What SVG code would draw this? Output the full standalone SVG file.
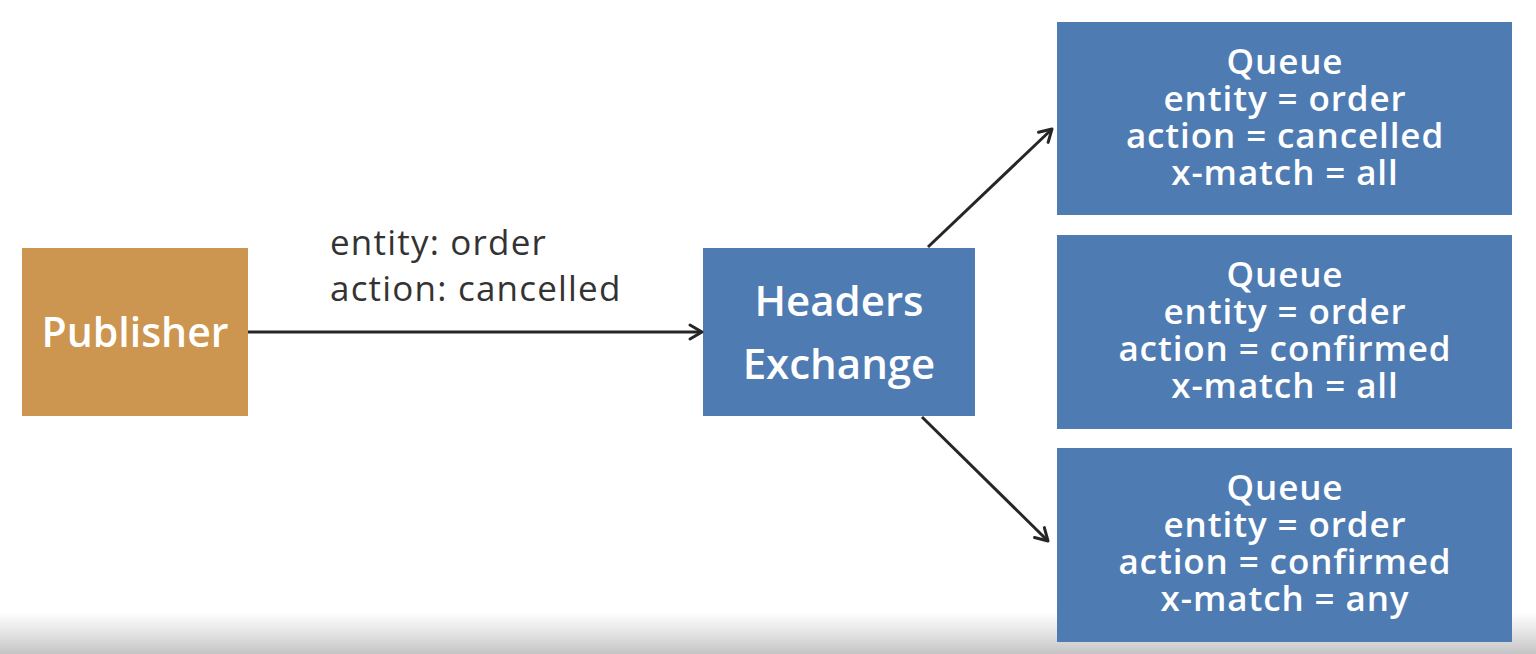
<svg xmlns="http://www.w3.org/2000/svg" width="1536" height="654" viewBox="0 0 1536 654">
<defs>
<linearGradient id="shade" x1="0" y1="0" x2="0" y2="1">
<stop offset="0" stop-color="#ffffff"/>
<stop offset="0.5" stop-color="#e4e4e4"/>
<stop offset="1" stop-color="#c4c4c4"/>
</linearGradient>
<marker id="arr" viewBox="0 0 20 20" refX="17" refY="10" markerWidth="20" markerHeight="20" markerUnits="userSpaceOnUse" orient="auto">
<path d="M5,3 L17,10 L5,17" fill="none" stroke="#262626" stroke-width="3" stroke-linecap="round" stroke-linejoin="round"/>
</marker>
<style>
.box{fill:#4F7BB3}
.pub{fill:#CC9550}
.t{font-family:"Open Sans",Lato,sans-serif;fill:#ffffff;text-anchor:middle;font-weight:600}
.q{font-size:35px;letter-spacing:0.9px}
.lbl{font-family:"Open Sans",Lato,sans-serif;fill:#333333;font-size:35px;letter-spacing:1.2px}
.c{stroke:#262626;stroke-width:3;fill:none}
</style>
</defs>
<rect x="0" y="0" width="1536" height="654" fill="#ffffff"/>
<rect x="0" y="612" width="1536" height="42" fill="url(#shade)"/>
<g id="publisher">
<rect class="pub" x="22" y="248" width="226" height="168"/>
<text class="t" x="135" y="347" font-size="41">Publisher</text>
</g>
<g id="exchange">
<rect class="box" x="703" y="248" width="272" height="168"/>
<text class="t" x="839" y="316" font-size="42">Headers<tspan x="839" dy="63">Exchange</tspan></text>
</g>
<g id="queue1">
<rect class="box" x="1057" y="22" width="455" height="193"/>
<text class="t q" x="1285" y="74">Queue<tspan x="1285" dy="37">entity = order</tspan><tspan x="1285" dy="37">action = cancelled</tspan><tspan x="1285" dy="37">x-match = all</tspan></text>
</g>
<g id="queue2">
<rect class="box" x="1057" y="235" width="455" height="194"/>
<text class="t q" x="1285" y="287">Queue<tspan x="1285" dy="37">entity = order</tspan><tspan x="1285" dy="37">action = confirmed</tspan><tspan x="1285" dy="37">x-match = all</tspan></text>
</g>
<g id="queue3">
<rect class="box" x="1057" y="448" width="455" height="194"/>
<text class="t q" x="1285" y="500">Queue<tspan x="1285" dy="37">entity = order</tspan><tspan x="1285" dy="37">action = confirmed</tspan><tspan x="1285" dy="37">x-match = any</tspan></text>
</g>
<g id="connectors">
<line class="c" x1="248" y1="332" x2="702" y2="332" marker-end="url(#arr)"/>
<line class="c" x1="928" y1="247" x2="1052" y2="129" marker-end="url(#arr)"/>
<line class="c" x1="922" y1="417" x2="1048" y2="541" marker-end="url(#arr)"/>
<text class="lbl" x="330" y="255">entity: order<tspan x="330" dy="46">action: cancelled</tspan></text>
</g>
</svg>
